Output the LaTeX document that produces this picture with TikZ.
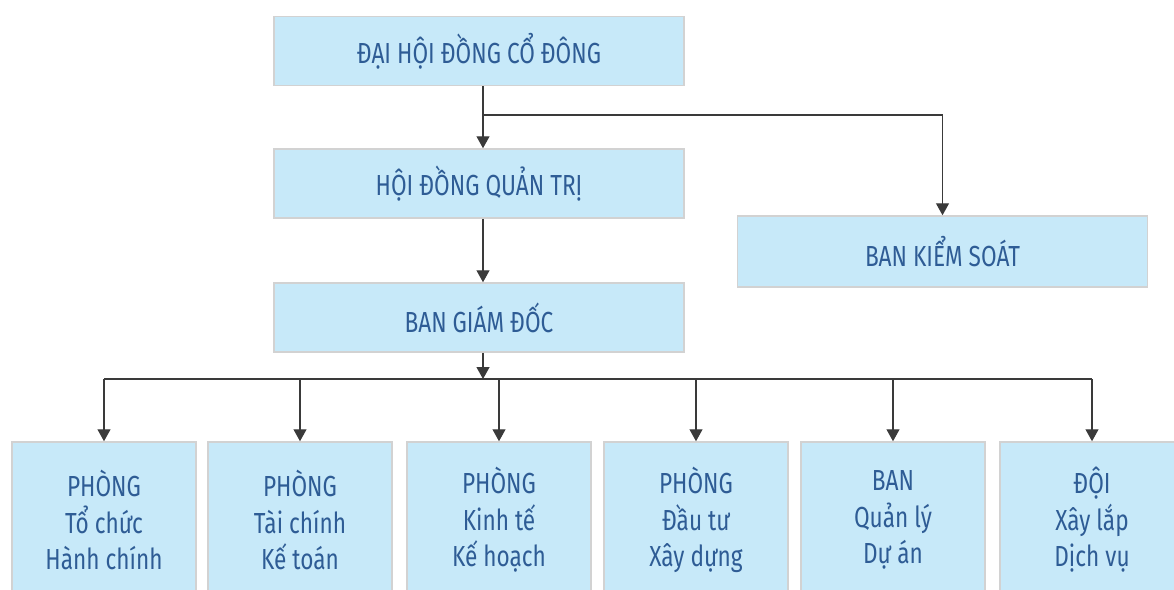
\documentclass[tikz,border=0pt]{standalone}
\usepackage{fontspec}
\setmainfont[FakeStretch=0.78]{Fira Sans}
\usetikzlibrary{arrows.meta}
\definecolor{hopxanh}{HTML}{C7E9F9}
\definecolor{vien}{HTML}{D2D2D2}
\definecolor{chu}{HTML}{2E5C95}
\definecolor{duong}{HTML}{3A3A3A}
\tikzset{
  hop/.style={draw=vien, line width=1.5pt, fill=hopxanh, text=chu, inner sep=0pt,
    font=\fontsize{29}{36.5}\selectfont},
  hoplon/.style={hop, minimum width=410pt, minimum height=69pt},
  hopnho/.style={hop, minimum width=184pt, minimum height=156pt, align=center},
  muiten/.style={draw=duong, line width=1.3pt, -{Triangle[width=13pt,length=12pt]}},
  duongnoi/.style={draw=duong, line width=1.3pt}
}
\begin{document}
\begin{tikzpicture}[x=1pt,y=-1pt]
\useasboundingbox (0,0) rectangle (1174,589);
% CAP LANH DAO
\node[hoplon] (dhdcd) at (479,51) {ĐẠI HỘI ĐỒNG CỔ ĐÔNG};
\node[hoplon] (hdqt) at (479,183.5) {HỘI ĐỒNG QUẢN TRỊ};
\node[hoplon] (bgd) at (479,317.5) {BAN GIÁM ĐỐC};
\node[hoplon, minimum height=71pt] (bks) at (942.5,251.5) {BAN KIỂM SOÁT};
% CAC PHONG BAN
\node[hopnho] (ptchc) at (104,520) {PHÒNG\\Tổ chức\\Hành chính};
\node[hopnho] (ptckt) at (300,520) {PHÒNG\\Tài chính\\Kế toán};
\node[hopnho] (pkhkt) at (499,520) {PHÒNG\\Kinh tế\\Kế hoạch};
\node[hopnho] (pdtxd) at (696,520) {PHÒNG\\Đầu tư\\Xây dựng};
\node[hopnho] (bqlda) at (893,520) {BAN\\Quản lý\\Dự án};
\node[hopnho] (dxldv) at (1092,520) {ĐỘI\\Xây lắp\\Dịch vụ};
% DUONG NOI
\coordinate (tach) at (483,115);
\coordinate (truc) at (483,379);
\draw[muiten] (dhdcd.south -| tach) -- (hdqt.north -| tach);
\draw[muiten] (tach) -| (bks.north);
\draw[muiten] (hdqt.south -| tach) -- (bgd.north -| tach);
\draw[muiten] (bgd.south -| truc) -- (truc);
\draw[duongnoi] (ptchc.north |- truc) -- (dxldv.north |- truc);
\foreach \p in {ptchc,ptckt,pkhkt,pdtxd,bqlda,dxldv}
  \draw[muiten] (\p.north |- truc) -- (\p.north);
\end{tikzpicture}
\end{document}
